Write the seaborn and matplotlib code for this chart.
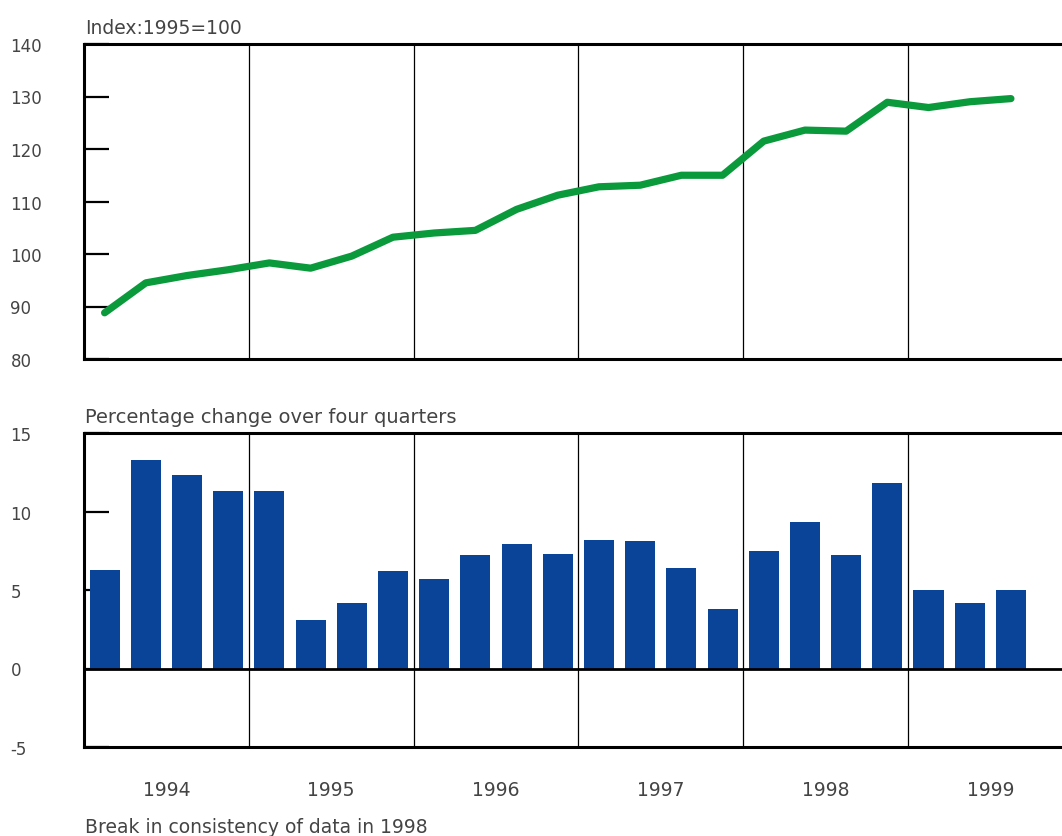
import numpy as np
import pandas as pd
import matplotlib
matplotlib.use("Agg")
import matplotlib.pyplot as plt
import seaborn as sns

# ---------------- data ----------------
years = ["1994", "1995", "1996", "1997", "1998", "1999"]
quarters = ["1994Q1", "1994Q2", "1994Q3", "1994Q4",
            "1995Q1", "1995Q2", "1995Q3", "1995Q4",
            "1996Q1", "1996Q2", "1996Q3", "1996Q4",
            "1997Q1", "1997Q2", "1997Q3", "1997Q4",
            "1998Q1", "1998Q2", "1998Q3", "1998Q4",
            "1999Q1", "1999Q2", "1999Q3"]
index_values = [88.8, 94.5, 95.9, 97.0, 98.3, 97.3, 99.6, 103.2,
                104.0, 104.5, 108.5, 111.2, 112.8, 113.1, 115.0, 115.0,
                121.5, 123.6, 123.4, 128.9, 127.9, 129.0, 129.6]
pct_change = [6.3, 13.3, 12.3, 11.3, 11.3, 3.1, 4.2, 6.2,
              5.7, 7.25, 7.9, 7.3, 8.2, 8.1, 6.4, 3.8,
              7.5, 9.3, 7.2, 11.8, 5.0, 4.2, 5.0]
top_ticks = [80, 90, 100, 110, 120, 130, 140]
bottom_ticks = [-5, 0, 5, 10, 15]

top_title = "Index:1995=100"
bottom_title = "Percentage change over four quarters"
footnote = "Break in consistency of data in 1998"

# ---------------- style ----------------
sns.set_theme(style="white")
plt.rcParams["font.family"] = ["DejaVu Sans"]
TEXT = "#444444"
GREEN = "#0a9a3c"
BLUE = "#0a4499"

df = pd.DataFrame({"quarter": quarters,
                   "pos": np.arange(len(quarters)),
                   "index": index_values,
                   "pct": pct_change})

W, H = 1062, 837
fig = plt.figure(figsize=(W / 100, H / 100), dpi=100)

left_px = 84
ax_top = fig.add_axes([left_px / W, 1 - 360 / H, 1 - left_px / W, 315 / H])
ax_bot = fig.add_axes([left_px / W, 1 - 748 / H, 1 - left_px / W, 314 / H])

sns.lineplot(data=df, x="pos", y="index", ax=ax_top, color=GREEN,
             linewidth=5.2, solid_capstyle="round", solid_joinstyle="round")
sns.barplot(data=df, x="pos", y="pct", ax=ax_bot, color=BLUE,
            saturation=1, width=0.73, native_scale=True, edgecolor="none")

xlim = (-0.5, 23.24)
year_bounds = [4 * i - 0.5 for i in range(1, len(years))]
year_centers = [4 * i + 1.5 for i in range(len(years))]

for ax, ticks, lim in [(ax_top, top_ticks, (80, 140)),
                       (ax_bot, bottom_ticks, (-5, 15))]:
    ax.set_xlim(*xlim)
    ax.set_ylim(*lim)
    ax.set_xlabel("")
    ax.set_ylabel("")
    ax.set_yticks(ticks)
    ax.set_yticklabels([str(t) for t in ticks])
    ax.tick_params(axis="y", which="major", left=True, direction="in",
                   length=18, width=1.6, color="black", pad=53,
                   labelsize=12, labelcolor=TEXT)
    for lab in ax.get_yticklabels():
        lab.set_horizontalalignment("left")
    for b in year_bounds:
        ax.axvline(b, color="black", linewidth=0.9, zorder=0.5)
    for side in ["top", "left", "bottom"]:
        ax.spines[side].set_visible(True)
        ax.spines[side].set_color("black")
        ax.spines[side].set_linewidth(2.2)
    ax.spines["right"].set_visible(False)
    ax.grid(False)

ax_top.set_xticks([])
ax_bot.set_xticks(year_centers)
ax_bot.set_xticklabels(years)
ax_bot.tick_params(axis="x", length=0, pad=24, labelsize=13.5, labelcolor=TEXT)
ax_bot.axhline(0, color="black", linewidth=2.0, zorder=3)

fig.text(85 / W, 1 - 28 / H, top_title, ha="left", va="center",
         fontsize=13.5, color=TEXT)
fig.text(85 / W, 1 - 418 / H, bottom_title, ha="left", va="center",
         fontsize=14, color=TEXT)
fig.text(85 / W, 1 - 828 / H, footnote, ha="left", va="center",
         fontsize=13.5, color=TEXT)

fig.savefig("out.png", dpi=100)
